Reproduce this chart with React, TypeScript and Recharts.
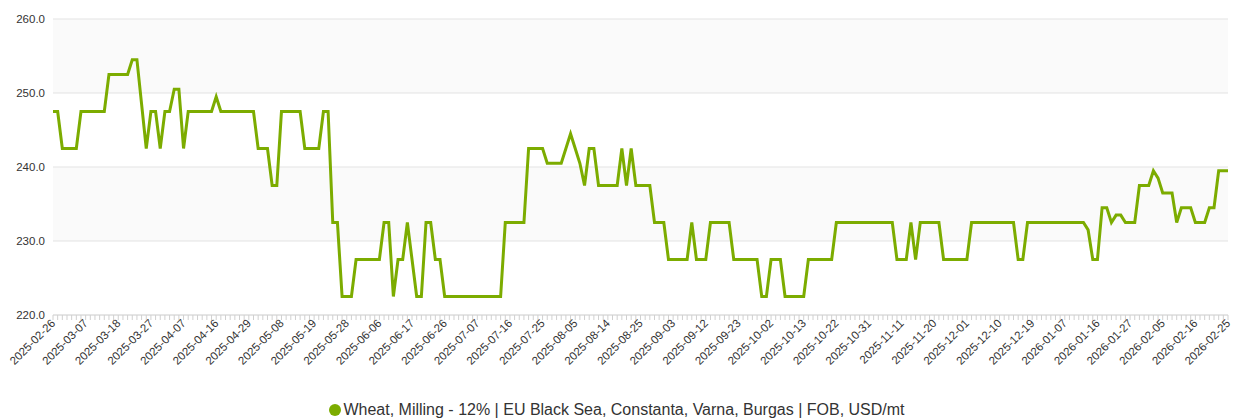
import React from 'react';
import { LineChart, Line, XAxis, YAxis, CartesianGrid, Legend } from 'recharts';

const dates = [
  '2025-02-26','2025-02-27','2025-02-28','2025-03-03','2025-03-04','2025-03-05','2025-03-06',
  '2025-03-07','2025-03-10','2025-03-11','2025-03-12','2025-03-13','2025-03-14','2025-03-17',
  '2025-03-18','2025-03-19','2025-03-20','2025-03-21','2025-03-24','2025-03-25','2025-03-26',
  '2025-03-27','2025-03-28','2025-03-31','2025-04-01','2025-04-02','2025-04-03','2025-04-04',
  '2025-04-07','2025-04-08','2025-04-09','2025-04-10','2025-04-11','2025-04-14','2025-04-15',
  '2025-04-16','2025-04-17','2025-04-22','2025-04-23','2025-04-24','2025-04-25','2025-04-28',
  '2025-04-29','2025-04-30','2025-05-01','2025-05-02','2025-05-05','2025-05-06','2025-05-07',
  '2025-05-08','2025-05-09','2025-05-12','2025-05-13','2025-05-14','2025-05-15','2025-05-16',
  '2025-05-19','2025-05-20','2025-05-21','2025-05-22','2025-05-23','2025-05-26','2025-05-27',
  '2025-05-28','2025-05-29','2025-05-30','2025-06-02','2025-06-03','2025-06-04','2025-06-05',
  '2025-06-06','2025-06-09','2025-06-10','2025-06-11','2025-06-12','2025-06-13','2025-06-16',
  '2025-06-17','2025-06-18','2025-06-19','2025-06-20','2025-06-23','2025-06-24','2025-06-25',
  '2025-06-26','2025-06-27','2025-06-30','2025-07-01','2025-07-02','2025-07-03','2025-07-04',
  '2025-07-07','2025-07-08','2025-07-09','2025-07-10','2025-07-11','2025-07-14','2025-07-15',
  '2025-07-16','2025-07-17','2025-07-18','2025-07-21','2025-07-22','2025-07-23','2025-07-24',
  '2025-07-25','2025-07-28','2025-07-29','2025-07-30','2025-07-31','2025-08-01','2025-08-04',
  '2025-08-05','2025-08-06','2025-08-07','2025-08-08','2025-08-11','2025-08-12','2025-08-13',
  '2025-08-14','2025-08-15','2025-08-18','2025-08-19','2025-08-20','2025-08-21','2025-08-22',
  '2025-08-25','2025-08-26','2025-08-27','2025-08-28','2025-08-29','2025-09-01','2025-09-02',
  '2025-09-03','2025-09-04','2025-09-05','2025-09-08','2025-09-09','2025-09-10','2025-09-11',
  '2025-09-12','2025-09-15','2025-09-16','2025-09-17','2025-09-18','2025-09-19','2025-09-22',
  '2025-09-23','2025-09-24','2025-09-25','2025-09-26','2025-09-29','2025-09-30','2025-10-01',
  '2025-10-02','2025-10-03','2025-10-06','2025-10-07','2025-10-08','2025-10-09','2025-10-10',
  '2025-10-13','2025-10-14','2025-10-15','2025-10-16','2025-10-17','2025-10-20','2025-10-21',
  '2025-10-22','2025-10-23','2025-10-24','2025-10-27','2025-10-28','2025-10-29','2025-10-30',
  '2025-10-31','2025-11-03','2025-11-04','2025-11-05','2025-11-06','2025-11-07','2025-11-10',
  '2025-11-11','2025-11-12','2025-11-13','2025-11-14','2025-11-17','2025-11-18','2025-11-19',
  '2025-11-20','2025-11-21','2025-11-24','2025-11-25','2025-11-26','2025-11-27','2025-11-28',
  '2025-12-01','2025-12-02','2025-12-03','2025-12-04','2025-12-05','2025-12-08','2025-12-09',
  '2025-12-10','2025-12-11','2025-12-12','2025-12-15','2025-12-16','2025-12-17','2025-12-18',
  '2025-12-19','2025-12-22','2025-12-23','2025-12-29','2025-12-30','2026-01-05','2026-01-06',
  '2026-01-07','2026-01-08','2026-01-09','2026-01-12','2026-01-13','2026-01-14','2026-01-15',
  '2026-01-16','2026-01-19','2026-01-20','2026-01-21','2026-01-22','2026-01-23','2026-01-26',
  '2026-01-27','2026-01-28','2026-01-29','2026-01-30','2026-02-02','2026-02-03','2026-02-04',
  '2026-02-05','2026-02-06','2026-02-09','2026-02-10','2026-02-11','2026-02-12','2026-02-13',
  '2026-02-16','2026-02-17','2026-02-18','2026-02-19','2026-02-20','2026-02-23','2026-02-24',
  '2026-02-25',
];

const prices = [
  247.5, 247.5, 242.5, 242.5, 242.5, 242.5, 247.5,
  247.5, 247.5, 247.5, 247.5, 247.5, 252.5, 252.5,
  252.5, 252.5, 252.5, 254.5, 254.5, 248.5, 242.5,
  247.5, 247.5, 242.5, 247.5, 247.5, 250.5, 250.5,
  242.5, 247.5, 247.5, 247.5, 247.5, 247.5, 247.5,
  249.5, 247.5, 247.5, 247.5, 247.5, 247.5, 247.5,
  247.5, 247.5, 242.5, 242.5, 242.5, 237.5, 237.5,
  247.5, 247.5, 247.5, 247.5, 247.5, 242.5, 242.5,
  242.5, 242.5, 247.5, 247.5, 232.5, 232.5, 222.5,
  222.5, 222.5, 227.5, 227.5, 227.5, 227.5, 227.5,
  227.5, 232.5, 232.5, 222.5, 227.5, 227.5, 232.5,
  227.5, 222.5, 222.5, 232.5, 232.5, 227.5, 227.5,
  222.5, 222.5, 222.5, 222.5, 222.5, 222.5, 222.5,
  222.5, 222.5, 222.5, 222.5, 222.5, 222.5, 232.5,
  232.5, 232.5, 232.5, 232.5, 242.5, 242.5, 242.5,
  242.5, 240.5, 240.5, 240.5, 240.5, 242.5, 244.5,
  242.5, 240.5, 237.5, 242.5, 242.5, 237.5, 237.5,
  237.5, 237.5, 237.5, 242.5, 237.5, 242.5, 237.5,
  237.5, 237.5, 237.5, 232.5, 232.5, 232.5, 227.5,
  227.5, 227.5, 227.5, 227.5, 232.5, 227.5, 227.5,
  227.5, 232.5, 232.5, 232.5, 232.5, 232.5, 227.5,
  227.5, 227.5, 227.5, 227.5, 227.5, 222.5, 222.5,
  227.5, 227.5, 227.5, 222.5, 222.5, 222.5, 222.5,
  222.5, 227.5, 227.5, 227.5, 227.5, 227.5, 227.5,
  232.5, 232.5, 232.5, 232.5, 232.5, 232.5, 232.5,
  232.5, 232.5, 232.5, 232.5, 232.5, 232.5, 227.5,
  227.5, 227.5, 232.5, 227.5, 232.5, 232.5, 232.5,
  232.5, 232.5, 227.5, 227.5, 227.5, 227.5, 227.5,
  227.5, 232.5, 232.5, 232.5, 232.5, 232.5, 232.5,
  232.5, 232.5, 232.5, 232.5, 227.5, 227.5, 232.5,
  232.5, 232.5, 232.5, 232.5, 232.5, 232.5, 232.5,
  232.5, 232.5, 232.5, 232.5, 232.5, 231.5, 227.5,
  227.5, 234.5, 234.5, 232.5, 233.5, 233.5, 232.5,
  232.5, 232.5, 237.5, 237.5, 237.5, 239.5, 238.5,
  236.5, 236.5, 236.5, 232.5, 234.5, 234.5, 234.5,
  232.5, 232.5, 232.5, 234.5, 234.5, 239.5, 239.5,
  239.5,
];

const tickLabels = [
  '2025-02-26','2025-03-07','2025-03-18','2025-03-27','2025-04-07','2025-04-16','2025-04-29',
  '2025-05-08','2025-05-19','2025-05-28','2025-06-06','2025-06-17','2025-06-26','2025-07-07',
  '2025-07-16','2025-07-25','2025-08-05','2025-08-14','2025-08-25','2025-09-03','2025-09-12',
  '2025-09-23','2025-10-02','2025-10-13','2025-10-22','2025-10-31','2025-11-11','2025-11-20',
  '2025-12-01','2025-12-10','2025-12-19','2026-01-07','2026-01-16','2026-01-27','2026-02-05',
  '2026-02-16','2026-02-25',
];

const yTicks = [220, 230, 240, 250, 260];
const seriesName = 'Wheat, Milling - 12% | EU Black Sea, Constanta, Varna, Burgas | FOB, USD/mt';

const GREEN = '#7cac00';
const FONT = 'Arial, "Liberation Sans", sans-serif';

const data = dates.map((d, i) => ({ date: d, price: prices[i] }));
const labelSet = new Set(tickLabels);

function DateTick(props: any) {
  const { x, y, payload } = props;
  const show = labelSet.has(payload.value);
  const ax = x + 3;
  const ay = y + 9;
  return (
    <g>
      <line x1={x} x2={x} y1={y} y2={y + 5} stroke="#d0d0d0" strokeWidth={1} />
      {show && (
        <text
          x={ax}
          y={ay}
          transform={`rotate(-45, ${ax}, ${ay})`}
          textAnchor="end"
          fontSize={11.5}
          fontFamily={FONT}
          fill="#333"
        >
          {payload.value}
        </text>
      )}
    </g>
  );
}

function LegendContent() {
  return (
    <div
      style={{
        display: 'flex',
        justifyContent: 'center',
        alignItems: 'center',
        fontFamily: FONT,
        fontSize: 16,
        color: '#333',
        lineHeight: '20px',
      }}
    >
      <svg width={14} height={14} style={{ marginRight: 1 }}>
        <circle cx={7} cy={7} r={6} fill={GREEN} />
      </svg>
      <span>{seriesName}</span>
    </div>
  );
}

export default function App() {
  return (
    <div style={{ position: 'absolute', left: 0, top: 0, width: 1233, height: 419, background: '#fff' }}>
      <LineChart width={1233} height={419} data={data} margin={{ top: 19, right: 5, bottom: 20, left: 0 }}>
        <CartesianGrid
          vertical={false}
          stroke="#e3e3e3"
          horizontalFill={['#fafafa', '#ffffff']}
          fillOpacity={1}
        />
        <XAxis
          dataKey="date"
          interval={0}
          tick={<DateTick />}
          tickLine={false}
          tickSize={0}
          tickMargin={0}
          height={84}
          axisLine={{ stroke: '#d8d8d8' }}
        />
        <YAxis
          domain={[220, 260]}
          ticks={yTicks}
          width={53}
          axisLine={false}
          tickLine={false}
          tickFormatter={(v: number) => v.toFixed(1)}
          tick={{ fontSize: 11.5, fontFamily: FONT, fill: '#333' }}
        />
        <Legend
          verticalAlign="middle"
          align="center"
          layout="horizontal"
          wrapperStyle={{ top: 400, left: 0, width: 1233 }}
          content={() => <LegendContent />}
        />
        <Line
          type="linear"
          dataKey="price"
          name={seriesName}
          stroke={GREEN}
          strokeWidth={3}
          dot={false}
          activeDot={false}
          isAnimationActive={false}
        />
      </LineChart>
    </div>
  );
}
